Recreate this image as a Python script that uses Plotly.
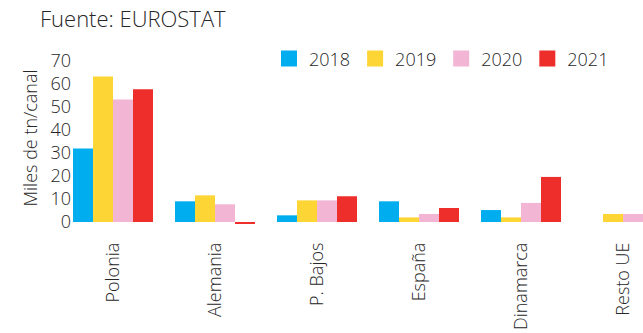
import plotly.graph_objects as go

# Tráfico por país, miles de toneladas por canal
paises = ["Polonia", "Alemania", "P. Bajos", "España", "Dinamarca", "Resto UE"]
anios = ["2018", "2019", "2020", "2021"]
v2018 = [32.0, 9.0, 2.9, 9.0, 5.2, None]
v2019 = [63.3, 11.6, 9.4, 2.0, 2.0, 3.5]
v2020 = [53.3, 7.7, 9.4, 3.5, 8.3, 3.5]
v2021 = [57.7, -0.6, 11.2, 6.1, 19.6, None]
colores = ["#00AEEF", "#FDD636", "#F2B6D4", "#EE2E2A"]

series = [v2018, v2019, v2020, v2021]
font_family = "Open Sans, Noto Sans, sans-serif"
texto = "#262626"

fig = go.Figure()
for anio, vals, col in zip(anios, series, colores):
    fig.add_trace(go.Bar(x=paises, y=vals, name=anio, marker=dict(color=col, line=dict(width=0)),
                         showlegend=False))
# square legend keys
for anio, col in zip(anios, colores):
    fig.add_trace(go.Scatter(x=[None], y=[None], mode="markers", name=anio,
                             marker=dict(symbol="square", size=16, color=col)))

fig.update_layout(
    width=643, height=333,
    margin=dict(l=72, r=0, t=50, b=107),
    paper_bgcolor="white", plot_bgcolor="white",
    barmode="group", bargap=0.216, bargroupgap=0,
    font=dict(family=font_family, color=texto, size=17, weight=300),
    title=dict(text="Fuente: EUROSTAT", x=40/643, xanchor="left", xref="container",
               y=1 - 19/333, yanchor="middle", yref="container",
               font=dict(size=22, color=texto, family=font_family, weight=300)),
    legend=dict(orientation="h", x=0.345, xanchor="left", y=0.95, yanchor="middle",
                font=dict(size=18, color=texto, weight=300), bgcolor="rgba(0,0,0,0)",
                itemwidth=30, tracegroupgap=0),
    xaxis=dict(range=[-0.402, 5.196], tickangle=-90, showline=False, showgrid=False,
               ticks="", automargin=False, ticklabelstandoff=12,
               tickfont=dict(size=18, color=texto, weight=300),
               fixedrange=True),
    yaxis=dict(range=[-1.74, 74.8], tickvals=[0, 10, 20, 30, 40, 50, 60, 70],
               showgrid=False, zeroline=False, showline=False, ticks="", automargin=False,
               tickfont=dict(size=18, color=texto, weight=300),
               title=dict(text="Miles de tn/canal", font=dict(size=18, color=texto, weight=300),
                          standoff=8)),
)

fig.write_html("out.html")
